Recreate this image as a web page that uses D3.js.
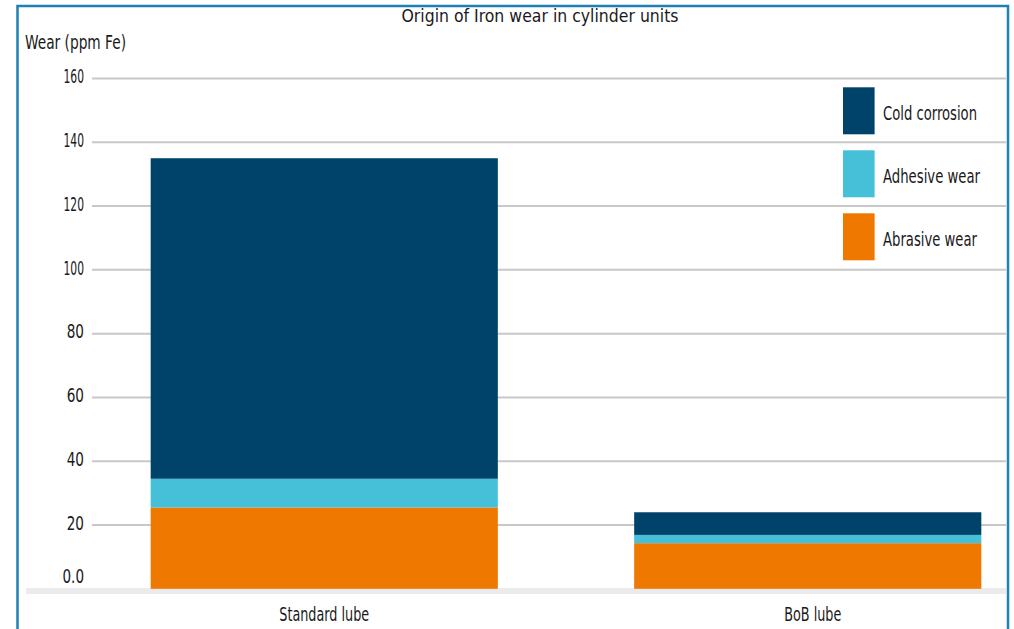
<!DOCTYPE html>
<html>
<head>
<meta charset="utf-8">
<script src="https://cdn.jsdelivr.net/npm/d3@7"></script>
<style>
  html, body { margin: 0; padding: 0; background: #ffffff; }
  svg { display: block; }
  text { font-family: "Liberation Sans Narrow", "DejaVu Sans Condensed", "DejaVu Sans", sans-serif; fill: #1a1a1a; }
</style>
</head>
<body>
<svg id="chart" width="1014" height="629"></svg>
<script>
// Chart data
const chartTitle = "Origin of Iron wear in cylinder units";
const yAxisTitle = "Wear (ppm Fe)";
const categories = ["Standard lube", "BoB lube"];
const seriesNames = ["Abrasive wear", "Adhesive wear", "Cold corrosion"];
const abrasiveWear = [25.5, 14.3];
const adhesiveWear = [9.0, 2.6];
const coldCorrosion = [100.5, 7.1];
const tickValues = [0, 20, 40, 60, 80, 100, 120, 140, 160];
const tickLabels = ["0.0", "20", "40", "60", "80", "100", "120", "140", "160"];

const seriesColors = ["#ee7800", "#46bfd9", "#00436a"];
const legendOrder = ["Cold corrosion", "Adhesive wear", "Abrasive wear"];

const rows = categories.map((c, i) => ({
  category: c,
  "Abrasive wear": abrasiveWear[i],
  "Adhesive wear": adhesiveWear[i],
  "Cold corrosion": coldCorrosion[i]
}));

const svg = d3.select("#chart");

// Scales
const y = d3.scaleLinear().domain([0, 160]).range([588.8, 78.5]);
const x = d3.scaleBand().domain(categories)
  .range([82.5, 1049.5]).paddingInner(0.282).paddingOuter(0.141);
const color = d3.scaleOrdinal().domain(seriesNames).range(seriesColors);

// Squeeze a text element to a given rendered width
function fitWidth(sel, w) {
  sel.attr("textLength", w).attr("lengthAdjust", "spacingAndGlyphs");
}

// Outer frame
svg.append("rect")
  .attr("x", 17.5).attr("y", 6).attr("width", 990.5).attr("height", 660)
  .attr("fill", "none").attr("stroke", "#1f80b5").attr("stroke-width", 2.5);

// Gridlines
const gridX0 = 92, gridX1 = 1006;
svg.append("g").selectAll("line")
  .data(tickValues.filter(v => v > 0))
  .join("line")
  .attr("x1", gridX0).attr("x2", gridX1)
  .attr("y1", d => y(d)).attr("y2", d => y(d))
  .attr("stroke", "#c8c8c8").attr("stroke-width", 2);

// Baseline band
svg.append("rect")
  .attr("x", 26).attr("y", y(0) - 0.8).attr("width", gridX1 - 26).attr("height", 6)
  .attr("fill", "#ebebeb");

// Y-axis labels (the zero label sits just above the baseline band)
const yAxis = d3.axisLeft(y).tickValues(tickValues)
  .tickFormat((d, i) => tickLabels[i]).tickSize(0).tickPadding(0);
const yAxisG = svg.append("g").attr("transform", "translate(84,0)").call(yAxis);
yAxisG.select(".domain").remove();
yAxisG.selectAll(".tick").attr("transform", d => `translate(0,${d === 0 ? y(0) - 13 : y(d) - 2})`);
yAxisG.selectAll(".tick text")
  .attr("font-size", 19.5).attr("font-family", null).attr("fill", "#1a1a1a")
  .attr("dy", "0.35em")
  .each(function(d) {
    const s = d3.select(this).text();
    const w = s === "0.0" ? 21.5 : (s.length === 3 ? 20.5 : 17.3);
    fitWidth(d3.select(this), w);
  });

// Stacked bars
const stack = d3.stack().keys(seriesNames);
const layers = stack(rows);
svg.append("g").selectAll("g")
  .data(layers)
  .join("g")
  .attr("fill", d => color(d.key))
  .selectAll("rect")
  .data(d => d)
  .join("rect")
  .attr("x", d => x(d.data.category))
  .attr("width", x.bandwidth())
  .attr("y", d => y(d[1]))
  .attr("height", d => y(d[0]) - y(d[1]));

// X-axis category labels
const xAxis = d3.axisBottom(x).tickSize(0).tickPadding(0);
const xAxisG = svg.append("g").attr("transform", "translate(0,606)").call(xAxis);
xAxisG.select(".domain").remove();
const labelWidths = { "Standard lube": 90, "BoB lube": 57 };
const labelShift = { "Standard lube": 0, "BoB lube": 5 };
xAxisG.selectAll(".tick text")
  .attr("font-size", 19.5).attr("font-family", null).attr("fill", "#1a1a1a")
  .attr("dy", "0.75em")
  .attr("x", d => labelShift[d])
  .each(function(d) { fitWidth(d3.select(this), labelWidths[d]); });

// Title
fitWidth(svg.append("text")
  .attr("x", 540).attr("y", 21.5).attr("text-anchor", "middle")
  .attr("font-size", 17.5).text(chartTitle), 277);

// Y-axis title
fitWidth(svg.append("text")
  .attr("x", 25).attr("y", 49)
  .attr("font-size", 19).text(yAxisTitle), 101);

// Legend
const legendWidths = { "Cold corrosion": 94, "Adhesive wear": 97, "Abrasive wear": 94 };
const legend = svg.append("g").selectAll("g")
  .data(legendOrder)
  .join("g")
  .attr("transform", (d, i) => `translate(843,${87.3 + i * 63})`);
legend.append("rect")
  .attr("width", 31.6).attr("height", 47)
  .attr("fill", d => color(d));
legend.append("text")
  .attr("x", 40).attr("y", 25.5).attr("dy", "0.35em")
  .attr("font-size", 19.5)
  .text(d => d)
  .each(function(d) { fitWidth(d3.select(this), legendWidths[d]); });
</script>
</body>
</html>
